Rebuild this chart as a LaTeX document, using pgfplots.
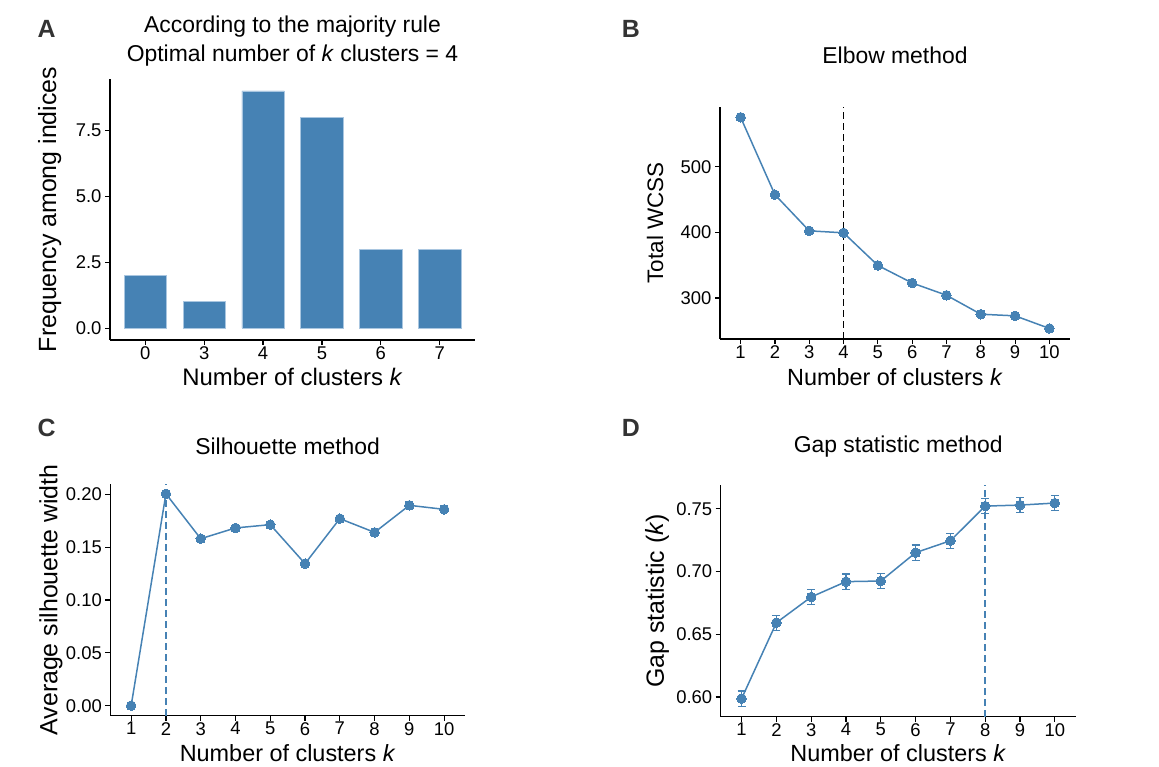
\documentclass[border=0pt]{standalone}
\usepackage{fontspec}
\setmainfont{Liberation Sans}
\usepackage{pgfplots}
\pgfplotsset{compat=1.18}
\definecolor{steel}{HTML}{4682B4}
\definecolor{steellight}{HTML}{A9C6E0}
\pgfplotsset{
  panel/.style={
    scale only axis,
    anchor=south west,
    axis lines=left,
    axis line style={-, line width=1.4bp, black},
    tick align=outside,
    major tick length=5bp,
    every tick/.style={line width=1.2bp, black},
    tick label style={font=\fontsize{18.5}{20}\selectfont, text=black},
    xticklabel style={yshift=2bp},
    /pgf/number format/assume math mode=true,
    xlabel style={font=\fontsize{23.5}{26}\selectfont},
    ylabel style={font=\fontsize{25}{28}\selectfont},
    title style={font=\fontsize{23}{29}\selectfont, align=center, anchor=center},
    clip=false,
  },
  pts/.style={color=steel, line width=1.5bp, mark=*, mark size=4.8bp, mark options={fill=steel, draw=steel, line width=0pt}},
}
\begin{document}
\begin{tikzpicture}
\useasboundingbox (0bp,0bp) rectangle (1159bp,767bp);
% Panel letters
\node[font=\bfseries\fontsize{25}{25}\selectfont, text=black!80] at (46.7bp,738bp) {A};
\node[font=\bfseries\fontsize{25}{25}\selectfont, text=black!80] at (630.8bp,738bp) {B};
\node[font=\bfseries\fontsize{25}{25}\selectfont, text=black!80] at (46.7bp,339.5bp) {C};
\node[font=\bfseries\fontsize{25}{25}\selectfont, text=black!80] at (630.8bp,339.5bp) {D};

% Panel A
\begin{axis}[panel,
  at={(110bp,427bp)}, width=365bp, height=261bp,
  xmin=-0.6, xmax=5.6, ymin=-0.45, ymax=9.45,
  xtick={0,1,2,3,4,5}, xticklabels={0,3,4,5,6,7},
  ytick={0,2.5,5,7.5}, yticklabels={0.0,2.5,5.0,7.5},
  title={According to the majority rule\\Optimal number of \textit{k} clusters = 4},
  title style={at={(axis description cs:0.5,1.1207)}},
  xlabel={Number of clusters \textit{k}},
  ylabel={Frequency among indices},
  xlabel style={at={(axis description cs:0.5,-0.1418)}, anchor=center, font=\fontsize{24}{26}\selectfont},
  ylabel style={at={(axis description cs:-0.165,0.5)}, anchor=center},
]
\addplot[ybar, bar width=0.72, bar shift=0pt, fill=steel, draw=steellight, line width=0.6bp]
  coordinates {(0,2) (1,1) (2,9) (3,8) (4,3) (5,3)};
\end{axis}

% Panel B
\begin{axis}[panel,
  at={(720bp,428bp)}, width=350bp, height=232.3bp,
  xmin=0.4, xmax=10.6, ymin=237.4, ymax=591.6,
  xtick={1,2,3,4,5,6,7,8,9,10},
  ytick={300,400,500},
  title={Elbow method},
  title style={at={(axis description cs:0.5,1.197)}},
  xlabel={Number of clusters \textit{k}},
  ylabel={Total WCSS},
  xlabel style={at={(axis description cs:0.5,-0.1636)}, anchor=center},
  ylabel style={at={(axis description cs:-0.1857,0.5)}, anchor=center, font=\fontsize{22.5}{26}\selectfont},
]
\addplot[black, line width=1.3bp, dash pattern=on 7bp off 4bp] coordinates {(4,237.4) (4,591.6)};
\addplot[pts] coordinates {(1,575.5) (2,457.5) (3,402.3) (4,399.3) (5,349.6) (6,322.8) (7,304.1) (8,275.2) (9,272.7) (10,253.5)};
\end{axis}

% Panel C
\begin{axis}[panel,
  at={(110.3bp,51.3bp)}, width=354.7bp, height=231.4bp,
  xmin=0.4, xmax=10.6, ymin=-0.0095, ymax=0.2095,
  xtick={1,2,3,4,5,6,7,8,9,10},
  ytick={0,0.05,0.1,0.15,0.2}, yticklabels={0.00,0.05,0.10,0.15,0.20},
  title={Silhouette method},
  title style={at={(axis description cs:0.5,1.1366)}},
  xlabel={Number of clusters \textit{k}},
  ylabel={Average silhouette width},
  xlabel style={at={(axis description cs:0.5,-0.161)}, anchor=center},
  ylabel style={at={(axis description cs:-0.1677,0.5)}, anchor=center},
]
\addplot[steel, line width=1.5bp, dash pattern=on 7bp off 4bp] coordinates {(2,-0.0095) (2,0.2095)};
\addplot[pts] coordinates {(1,0) (2,0.2005) (3,0.158) (4,0.1682) (5,0.1713) (6,0.1344) (7,0.177) (8,0.164) (9,0.1896) (10,0.1858)};
\end{axis}

% Panel D
\begin{axis}[panel,
  at={(720.7bp,50.3bp)}, width=355bp, height=231.7bp,
  xmin=0.4, xmax=10.6, ymin=0.5843, ymax=0.7689,
  xtick={1,2,3,4,5,6,7,8,9,10},
  ytick={0.6,0.65,0.7,0.75}, yticklabels={0.60,0.65,0.70,0.75},
  title={Gap statistic method},
  title style={at={(axis description cs:0.5,1.142)}},
  xlabel={Number of clusters \textit{k}},
  ylabel={Gap statistic (\textit{k})},
  xlabel style={at={(axis description cs:0.5,-0.157)}, anchor=center},
  ylabel style={at={(axis description cs:-0.178,0.5)}, anchor=center},
]
\addplot[steel, line width=1.5bp, dash pattern=on 7bp off 4bp] coordinates {(8,0.5843) (8,0.7689)};
\addplot[pts, error bars/.cd, y dir=both, y explicit,
  error bar style={line width=1.3bp, steel},
  error mark options={rotate=90, mark size=4bp, line width=1.3bp, steel}]
  coordinates {
  (1,0.5987) +- (0,0.006)
  (2,0.6592) +- (0,0.006)
  (3,0.6797) +- (0,0.006)
  (4,0.6919) +- (0,0.006)
  (5,0.6924) +- (0,0.006)
  (6,0.7150) +- (0,0.006)
  (7,0.7245) +- (0,0.006)
  (8,0.7521) +- (0,0.006)
  (9,0.7529) +- (0,0.006)
  (10,0.7545) +- (0,0.006)
  };
\end{axis}
\end{tikzpicture}
\end{document}
